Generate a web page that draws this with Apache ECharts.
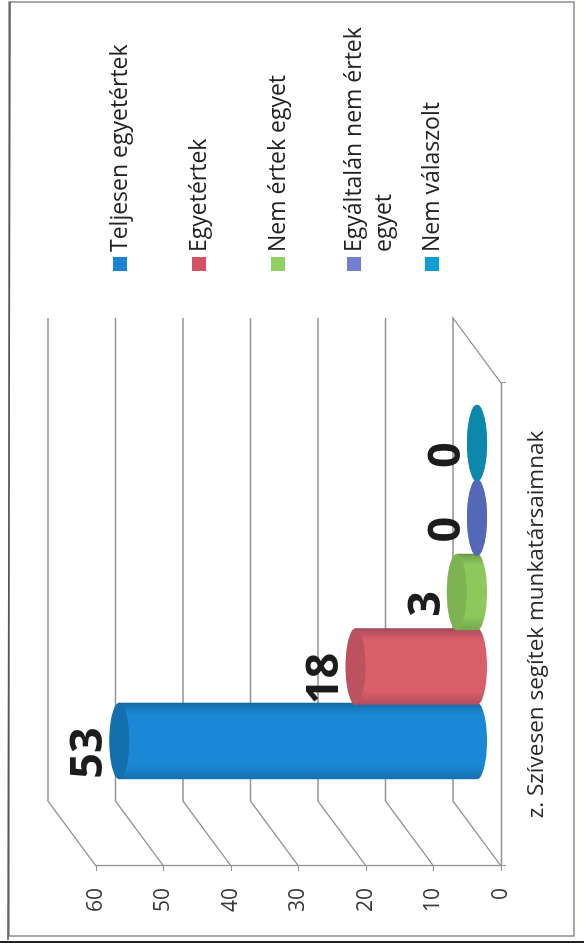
<!DOCTYPE html>
<html><head><meta charset="utf-8">
<script src="https://cdn.jsdelivr.net/npm/echarts@6/dist/echarts.min.js"></script>
<style>
html,body{margin:0;padding:0;background:#fff;width:584px;height:943px;overflow:hidden}
#c{position:absolute;left:0;top:0;width:943px;height:584px;transform-origin:0 0;transform:translateY(943px) rotate(-90deg);filter:blur(0.4px)}
</style></head><body><div id="c"></div>
<script>
const categories = ['z. Szívesen segítek munkatársaimnak'];
const seriesNames = ['Teljesen egyetértek','Egyetértek','Nem értek egyet','Egyáltalán nem értek egyet','Nem válaszolt'];
const seriesValues = [53,18,3,0,0];
const valueTicks = [0,10,20,30,40,50,60];
const bodyColors = [['#1670b0','#1a88d4','#17649c'],['#b04c5c','#d9606b','#8e4450'],['#74a84c','#8cc85c','#5f8a44'],['#4c60ac','#6070c4','#4c60ac'],['#0a7c9c','#0c90b4','#0a7c9c']];
const capColors = ['#1470ac','#bc5260','#7db452','#5468b8','#0b88ac'];
const legendColors = ['#1a82d0','#d25262','#90d060','#7080d0','#0ea0d0'];
const legendTops = [113,192,271,347,425];

const DX = 65, DY = -48, RY = 10, FILL = 0.771, LINE = 30;
const FONT = '"Open Sans"';

function wall(params, api){
  const p = api.coord([0, api.value(1)]);
  const band = api.size([1,0])[0];
  const l = p[0]-band/2, y = p[1];
  const pts = [[l,y],[l+DX,y+DY],[l+DX+band,y+DY]];
  if (api.value(1)===0) pts.push([l+band,y]);
  return {type:'polyline',shape:{points:pts},style:{fill:null,stroke:'#939393',lineWidth:1.3},silent:true};
}
function cyl(params, api){
  const idx = params.seriesIndex-1, v = api.value(1);
  const band = api.size([1,0])[0], slot = band*FILL/seriesNames.length, rx = slot/2+1;
  const base = api.coord([0,0]), top = api.coord([0,v]);
  const cx = base[0]+DX/2+(idx-(seriesNames.length-1)/2)*slot;
  const y0 = base[1]+DY/2, y1 = top[1]+DY/2;
  const c = bodyColors[idx];
  const grad = new echarts.graphic.LinearGradient(0,0,1,0,[{offset:0,color:c[0]},{offset:.18,color:c[1]},{offset:.85,color:c[1]},{offset:.975,color:c[0]},{offset:1,color:c[2]}]);
  return {type:'group',children:[
    {type:'ellipse',shape:{cx:cx,cy:y0,rx:rx,ry:RY},style:{fill:grad}},
    {type:'rect',shape:{x:cx-rx,y:y1,width:rx*2,height:y0-y1},style:{fill:grad}},
    {type:'ellipse',shape:{cx:cx,cy:y1,rx:rx,ry:RY},style:{fill:capColors[idx]}},
    {type:'text',style:{text:String(v),x:cx-12,y:y1-RY-20,align:'center',verticalAlign:'middle',font:'bold 45px '+FONT,fill:'#1c1c1c'}}
  ]};
}
const option = {
  animation:false,
  backgroundColor:'#fefefd',
  grid:{left:77,top:96,width:483,height:405},
  xAxis:{type:'category',data:categories,
    axisLine:{lineStyle:{color:'#939393',width:1.3}},axisTick:{show:true,length:5,lineStyle:{color:'#939393'}},
    axisLabel:{margin:24,color:'#2a2a2a',fontFamily:FONT,fontSize:22.5}},
  yAxis:{type:'value',min:0,max:60,interval:10,
    axisLine:{show:true,lineStyle:{color:'#939393',width:1.3}},axisTick:{show:true,length:5,lineStyle:{color:'#939393'}},
    splitLine:{show:false},
    axisLabel:{margin:22,color:'#3a3a3a',fontFamily:FONT,fontSize:21}},
  legend:seriesNames.map((n,i)=>({
    data:[{name:n,icon:'rect',itemStyle:{color:legendColors[i]}}],
    left:667,
    top:i===3?legendTops[i]+7-LINE*1.5-5:legendTops[i]-5-(LINE-14)/2,
    itemWidth:14,itemHeight:14,selectedMode:false,
    formatter:i===3?'\nEgyáltalán nem értek\negyet':'{name}',
    textStyle:{fontFamily:FONT,fontSize:23,color:'#222',lineHeight:LINE}
  })),
  graphic:[
    {type:'rect',z:-1,shape:{x:7,y:9,width:934,height:565},style:{fill:'#fff',stroke:'#8c8c8c',lineWidth:1.5}},
    {type:'line',z:-1,shape:{x1:3,y1:8,x2:941,y2:10},style:{stroke:'#555',lineWidth:1.5}},
    {type:'rect',z:-1,shape:{x:0,y:0,width:2,height:584},style:{fill:'#222'}}
  ],
  series:[
    {type:'custom',name:'fal',renderItem:wall,data:valueTicks.map(t=>[0,t]),encode:{x:0,y:1},silent:true,z:1,clip:false},
    ...seriesNames.map((n,i)=>({type:'custom',name:n,renderItem:cyl,data:[[0,seriesValues[i]]],encode:{x:0,y:1},z:2,clip:false}))
  ]
};
echarts.init(document.getElementById('c')).setOption(option);
</script></body></html>
